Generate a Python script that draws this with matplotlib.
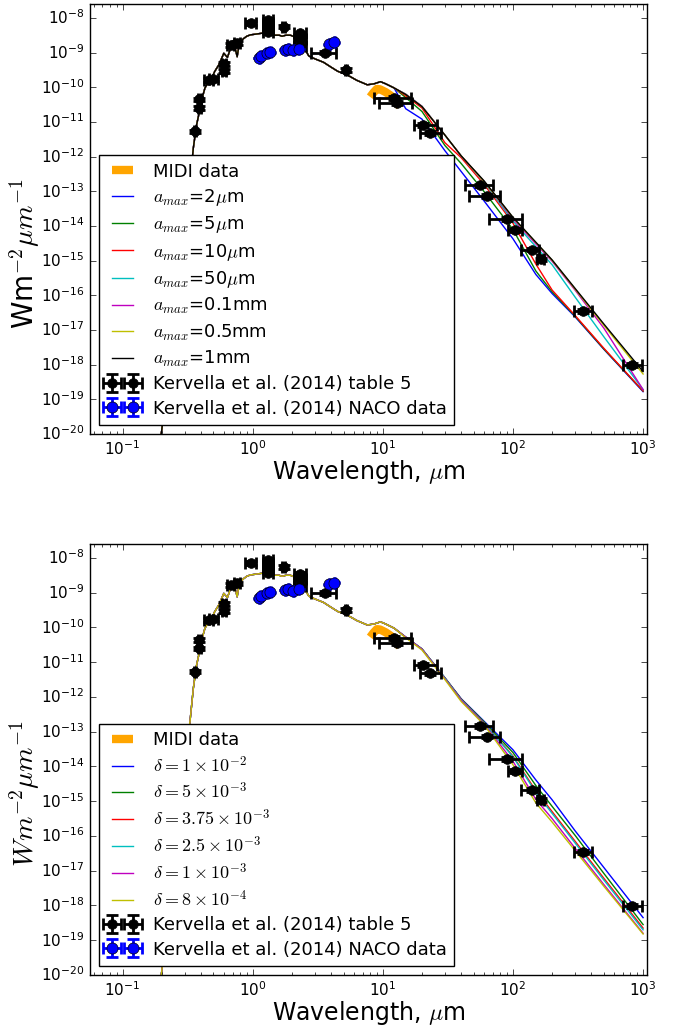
import matplotlib
matplotlib.use("Agg")
import matplotlib.pyplot as plt
import numpy as np
from matplotlib.ticker import LogLocator

plt.style.use('classic')
plt.rcParams['mathtext.fontset'] = 'cm'
plt.rcParams['font.family'] = 'DejaVu Sans'

# model SED, photospheric part (shared by all models), log10 of W m^-2 um^-1
phot_wl = [0.18, 0.2, 0.25, 0.3, 0.33, 0.35, 0.37, 0.39, 0.41, 0.43, 0.45, 0.48,
           0.51, 0.55, 0.58, 0.6, 0.64, 0.67, 0.7, 0.73, 0.76, 0.79, 0.85, 0.9,
           0.96, 1.05, 1.19, 1.3, 1.45, 1.6, 1.68, 1.8, 1.95, 2.1, 2.25, 2.45,
           2.7, 3.0, 3.5, 4.0, 4.5, 5.3, 6.3, 7.6, 8.6, 9.6, 10.5, 12.2]
phot_logf = [-21.0, -19.9, -16.6, -14.0, -12.7, -11.75, -11.1, -10.7, -10.3, -10.02,
             -9.9, -9.78, -9.55, -9.35, -9.15, -9.02, -9.14, -8.92, -8.88, -8.84,
             -9.12, -8.72, -8.6, -8.53, -8.49, -8.47, -8.44, -8.45, -8.5, -8.5,
             -8.53, -8.5, -8.5, -8.55, -8.65, -8.83, -9.1, -9.18, -9.28, -9.42,
             -9.54, -9.64, -9.8, -9.93, -9.9, -9.84, -9.9, -10.02]

# long-wavelength tails
tail_wl = [15, 20, 30, 40, 60, 100, 150, 200, 300, 500, 1000]

amax_labels = [r'$a_{max}$=2$\mu$m', r'$a_{max}$=5$\mu$m', r'$a_{max}$=10$\mu$m',
               r'$a_{max}$=50$\mu$m', r'$a_{max}$=0.1mm', r'$a_{max}$=0.5mm',
               r'$a_{max}$=1mm']
amax_colors = ['b', 'g', 'r', 'c', 'm', 'y', 'k']
amax_2um = [-10.62, -10.92, -11.83, -12.43, -13.28, -14.37, -15.4, -15.95, -16.62, -17.56, -18.78]
amax_5um = [-10.3, -10.7, -11.68, -12.2, -13.01, -14.1, -15.3, -15.9, -16.6, -17.55, -18.76]
amax_10um = [-10.25, -10.6, -11.6, -12.03, -12.8, -13.92, -15.1, -15.85, -16.58, -17.53, -18.76]
amax_50um = [-10.2, -10.55, -11.38, -11.98, -12.74, -13.86, -14.6, -15.12, -16.05, -17.2, -18.72]
amax_01mm = [-10.2, -10.55, -11.38, -11.98, -12.72, -13.8, -14.52, -15.02, -15.85, -16.95, -18.72]
amax_05mm = [-10.21, -10.56, -11.38, -11.98, -12.72, -13.76, -14.48, -14.99, -15.82, -16.87, -18.27]
amax_1mm = [-10.21, -10.56, -11.38, -11.98, -12.7, -13.75, -14.47, -14.98, -15.8, -16.83, -18.2]
amax_tails = [amax_2um, amax_5um, amax_10um, amax_50um, amax_01mm, amax_05mm, amax_1mm]

delta_labels = [r'$\delta=1\times10^{-2}$', r'$\delta=5\times10^{-3}$',
                r'$\delta=3.75\times10^{-3}$', r'$\delta=2.5\times10^{-3}$',
                r'$\delta=1\times10^{-3}$', r'$\delta=8\times10^{-4}$']
delta_colors = ['b', 'g', 'r', 'c', 'm', 'y']
delta_1e2 = [-10.28, -10.62, -11.45, -12.05, -12.7, -13.52, -14.39, -14.96, -15.85, -16.91, -18.35]
delta_5e3 = [-10.28, -10.62, -11.45, -12.06, -12.72, -13.6, -14.55, -15.15, -15.98, -17.08, -18.55]
delta_375e3 = [-10.28, -10.62, -11.46, -12.07, -12.75, -13.7, -14.7, -15.3, -16.15, -17.22, -18.65]
delta_25e3 = [-10.28, -10.62, -11.46, -12.08, -12.76, -13.72, -14.75, -15.35, -16.2, -17.27, -18.7]
delta_1e3 = [-10.28, -10.63, -11.48, -12.1, -12.78, -13.85, -14.95, -15.5, -16.35, -17.4, -18.8]
delta_8e4 = [-10.3, -10.65, -11.5, -12.13, -12.8, -13.95, -15.05, -15.6, -16.42, -17.45, -18.82]
delta_tails = [delta_1e2, delta_5e3, delta_375e3, delta_25e3, delta_1e3, delta_8e4]

# MIDI spectrum
midi_wl = [8.0, 8.5, 9.0, 9.5, 10.0, 10.5, 11.0, 11.5, 12.0, 12.5, 13.0, 13.5]
midi_logf = [-10.28, -10.15, -10.05, -10.06, -10.1, -10.14, -10.19, -10.24,
             -10.32, -10.4, -10.48, -10.55]

# Kervella et al. (2014) table 5
k_wl = [0.36, 0.39, 0.39, 0.46, 0.50, 0.60, 0.60, 0.68, 0.76, 0.97, 1.32, 1.32,
        1.32, 1.32, 1.73, 2.32, 2.32, 2.32, 3.6, 5.2, 12.1, 12.9, 20.5, 23.2,
        56, 63, 90, 104, 141, 163, 347, 826]
k_logf = [-11.27, -10.35, -10.6, -9.78, -9.76, -9.32, -9.52, -8.78, -8.73, -8.14,
          -8.06, -8.18, -8.3, -8.42, -8.25, -8.45, -8.62, -8.8, -9.0, -9.5,
          -10.3, -10.45, -11.08, -11.32, -12.83, -13.14, -13.79, -14.12, -14.68,
          -14.96, -16.45, -18.01]
k_xlo = [0.005, 0.01, 0.01, 0.04, 0.04, 0.02, 0.02, 0.04, 0.04, 0.1, 0.12, 0.12,
         0.12, 0.12, 0.05, 0.25, 0.25, 0.25, 0.8, 0.1, 3.5, 3.5, 3.0, 4.0,
         13, 17, 25, 13, 25, 10, 55, 120]
k_xhi = [0.005, 0.01, 0.01, 0.04, 0.04, 0.02, 0.02, 0.04, 0.04, 0.1, 0.12, 0.12,
         0.12, 0.12, 0.05, 0.25, 0.25, 0.25, 0.8, 0.1, 4.5, 4.0, 5.5, 5.0,
         14, 17, 28, 14, 17, 10, 55, 150]

# Kervella et al. (2014) NACO
n_wl = [1.12, 1.16, 1.29, 1.36, 1.78, 1.88, 2.05, 2.25, 3.87, 4.24]
n_logf = [-9.16, -9.11, -9.02, -8.99, -8.92, -8.90, -8.94, -8.90, -8.76, -8.71]


def draw_panel(ax, tails, colors, labels, ylabel):
    ax.plot(midi_wl, 10 ** np.array(midi_logf), color='orange', lw=6,
            solid_capstyle='butt', label='MIDI data')
    for tail, col, lab in zip(tails, colors, labels):
        wl = phot_wl + tail_wl
        fl = 10 ** np.array(phot_logf + tail)
        ax.plot(wl, fl, color=col, lw=1, label=lab)

    k_fl = 10 ** np.array(k_logf)
    ax.errorbar(k_wl, k_fl, xerr=[k_xlo, k_xhi], yerr=0.12 * k_fl, fmt='o',
                color='k', mec='k', ms=7, elinewidth=2, capsize=4, capthick=2,
                label='Kervella et al. (2014) table 5')
    n_fl = 10 ** np.array(n_logf)
    ax.errorbar(n_wl, n_fl, xerr=0.01 * np.array(n_wl), yerr=0.02 * n_fl, fmt='o',
                color='b', mfc='b', mec='k', ms=8, elinewidth=2, capsize=4,
                capthick=2, label='Kervella et al. (2014) NACO data')

    ax.set_xscale('log')
    ax.set_yscale('log')
    ax.set_xlim(10 ** -1.25, 10 ** 3.03)
    ax.set_ylim(1e-20, 10 ** -7.6)
    ax.yaxis.set_major_locator(LogLocator(base=10, numticks=30))
    ax.yaxis.set_minor_locator(LogLocator(base=10, subs=[], numticks=30))
    ax.tick_params(labelsize=11)
    ax.tick_params(which='major', length=4)
    ax.tick_params(which='minor', length=2)
    ax.set_xlabel(r'Wavelength, $\mu$m', fontsize=17, labelpad=0)
    ax.set_ylabel(ylabel, fontsize=20)
    ax.yaxis.set_label_coords(-0.087, 0.42)
    leg = ax.legend(loc='lower left', fontsize=13, handlelength=1.8,
                    numpoints=2, fancybox=False, framealpha=1,
                    borderaxespad=0.5, labelspacing=0.35)
    leg.get_frame().set_edgecolor('k')


fig = plt.figure(figsize=(6.77, 10.30), dpi=100, facecolor='white')
ax1 = fig.add_axes([90 / 677, 1 - 434 / 1030, 557 / 677, 430 / 1030])
ax2 = fig.add_axes([90 / 677, 1 - 975 / 1030, 557 / 677, 431 / 1030])

draw_panel(ax1, amax_tails, amax_colors, amax_labels, r'Wm$^{-2}\mu m^{-1}$')
draw_panel(ax2, delta_tails, delta_colors, delta_labels, r'$Wm^{-2}\mu m^{-1}$')

fig.savefig('out.png', dpi=100, facecolor='white')
